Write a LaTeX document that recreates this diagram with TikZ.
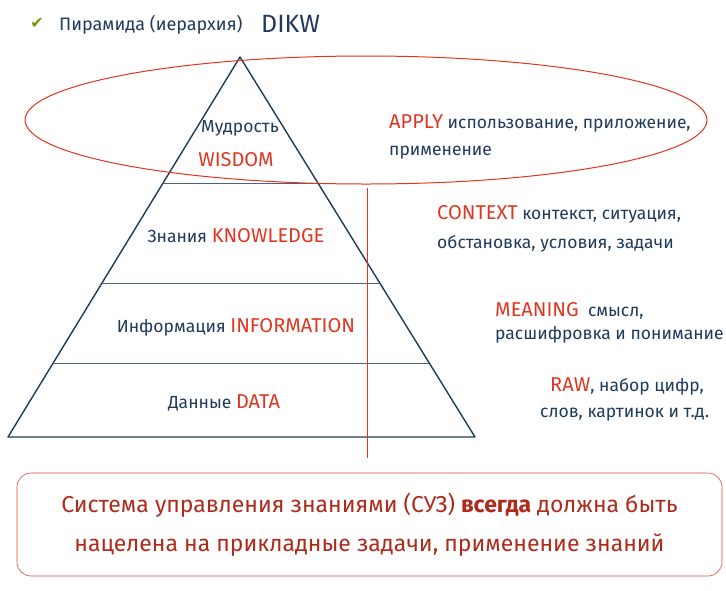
\documentclass[tikz,border=0pt]{standalone}
\usepackage{fontspec}
\setmainfont{Fira Sans}
\newfontfamily\symfont{DejaVu Sans}
\usetikzlibrary{calc}
\definecolor{inkblue}{HTML}{1E3A5C}
\definecolor{inkred}{HTML}{E0351F}
\definecolor{boxred}{HTML}{B02A1C}
\definecolor{tickgreen}{HTML}{8A8C12}
\newcommand{\keyword}[1]{\textcolor{inkred}{\fontsize{20}{24}\selectfont #1}}
\begin{document}
\begin{tikzpicture}[x=1pt,y=-1pt]
        \tikzstyle{blueword}=[text=inkblue,inner sep=0pt,font=\fontsize{17.5}{21}\selectfont]
        \tikzstyle{redword}=[text=inkred,inner sep=0pt,font=\fontsize{20}{24}\selectfont]
        \tikzstyle{level}=[draw=inkblue!80,thick]
        \tikzstyle{redline}=[draw=inkred,line width=1pt]
        \useasboundingbox (0,0) rectangle (726,590);
        % title
        \node [text=tickgreen,inner sep=0pt,font=\symfont\fontsize{16}{20}\selectfont] (tick) at (37,23) {✔};
        \node [blueword,anchor=west,font=\fontsize{18}{21}\selectfont] (title) at (59,25) {Пирамида (иерархия)};
        \node [blueword,anchor=west,font=\fontsize{25}{30}\selectfont] (dikw) at (261,24) {DIKW};
        % pyramid
        \coordinate (apex) at (240,57);
        \coordinate (bl) at (8,437);
        \coordinate (br) at (475,437);
        \draw [draw=inkblue,line width=1.4pt,line join=round] (bl) -- (apex) -- (br) -- cycle;
        \draw [level] ($(apex)!0.332!(bl)$) -- ($(apex)!0.332!(br)$);
        \draw [level] ($(apex)!0.595!(bl)$) -- ($(apex)!0.595!(br)$);
        \draw [level] ($(apex)!0.805!(bl)$) -- ($(apex)!0.805!(br)$);
        \fill [inkred] (366.8,188) rectangle (368.2,458);
        \draw [redline] (366,120) ellipse [x radius=341pt, y radius=64pt];
        % levels
        \node [blueword] (wis) at (240,128) {Мудрость};
        \node [redword] (wisdom) at (236,160) {WISDOM};
        \node [blueword] (know) at (236,236) {Знания \keyword{KNOWLEDGE}};
        \node [blueword] (info) at (236,327) {Информация \keyword{INFORMATION}};
        \node [blueword] (data) at (224,403) {Данные \keyword{DATA}};
        % comments on the right
        \node [blueword,anchor=west] (apply) at (389,123) {\keyword{APPLY} использование, приложение,};
        \node [blueword,anchor=west] (apply2) at (389,153) {применение};
        \node [blueword,anchor=west] (ctx) at (437,214) {\keyword{CONTEXT} контекст, ситуация,};
        \node [blueword,anchor=west] (ctx2) at (437,244) {обстановка, условия, задачи};
        \node [blueword,anchor=west] (mean) at (495,311) {\keyword{MEANING}\ \ смысл,};
        \node [blueword,anchor=west] (mean2) at (495,335) {расшифровка и понимание};
        \node [blueword,anchor=west] (raw) at (550,386) {\keyword{RAW}, набор цифр,};
        \node [blueword,anchor=west] (raw2) at (540,415) {слов, картинок и т.д.};
        % conclusion
        \node [draw=inkred!90,semithick,rounded corners=14pt,minimum width=705pt,minimum height=103pt,
               text=boxred,align=center,font=\fontsize{23}{39}\selectfont] (ksm) at (369.5,524.5)
              {Система управления знаниями (СУЗ) \textbf{всегда} должна быть\\нацелена на прикладные задачи, применение знаний};
\end{tikzpicture}
\end{document}
